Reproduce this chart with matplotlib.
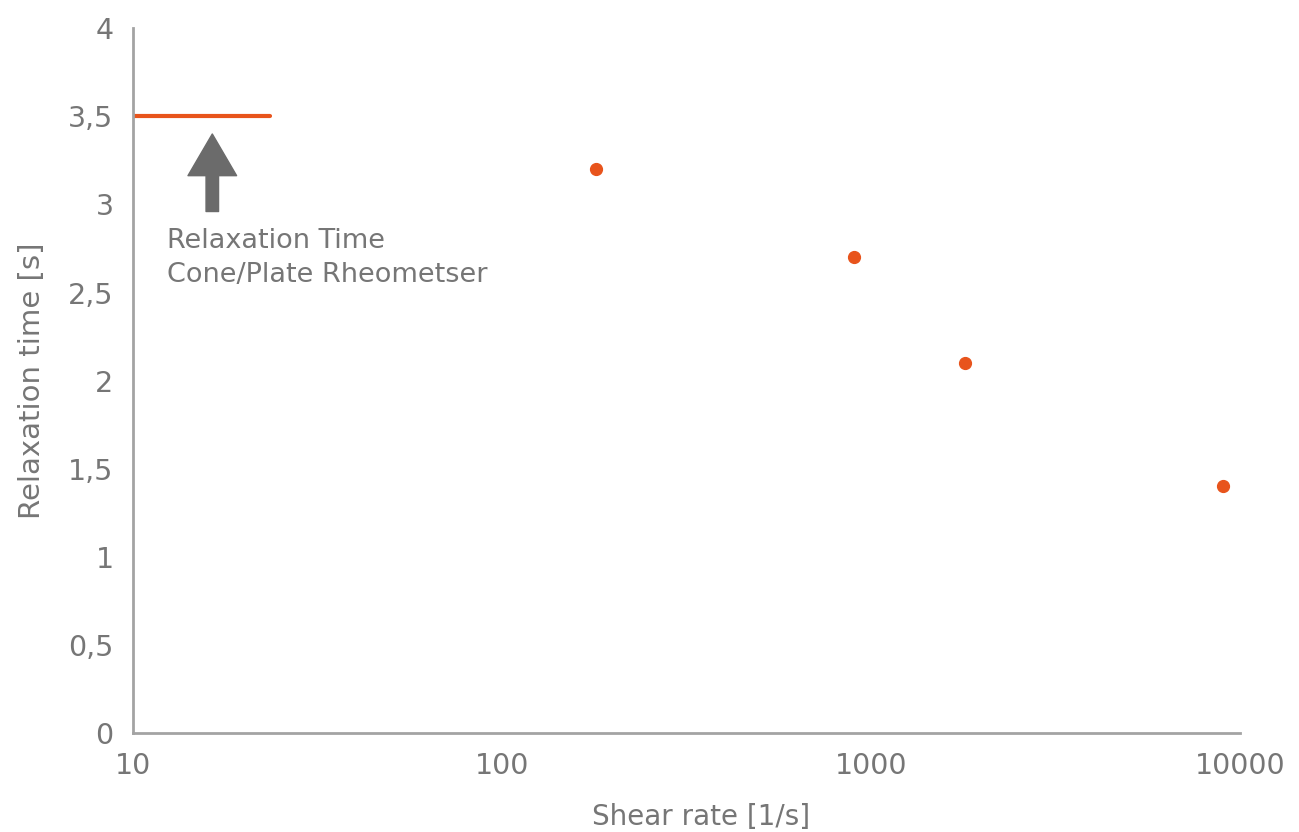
import matplotlib
matplotlib.use("Agg")
import matplotlib.pyplot as plt
from matplotlib.ticker import FixedLocator, NullLocator

# measured relaxation times (slit/capillary rheometer)
shear_rate = [180, 900, 1800, 9000]
relax_time = [3.2, 2.7, 2.1, 1.4]

# reference value from cone/plate rheometer, drawn as a short line
ref_x = [10, 23.5]
ref_y = [3.5, 3.5]

x_ticks = [10, 100, 1000, 10000]
x_tick_labels = ["10", "100", "1000", "10000"]
y_ticks = [0, 0.5, 1, 1.5, 2, 2.5, 3, 3.5, 4]
y_tick_labels = ["0", "0,5", "1", "1,5", "2", "2,5", "3", "3,5", "4"]

ORANGE = "#e8541c"
TEXT = "#767676"
SPINE = "#a3a3a3"
ARROW = "#6b6b6b"

plt.rcParams["font.family"] = ["DejaVu Sans"]

fig = plt.figure(figsize=(12.99, 8.32), dpi=100)
ax = fig.add_axes([0.1024, 0.119, 0.8522, 0.847])

ax.plot(ref_x, ref_y, color=ORANGE, linewidth=3, solid_capstyle="round")
ax.plot(shear_rate, relax_time, linestyle="none", marker="o", markersize=8.5,
        color=ORANGE)

ax.annotate("", xy=(16.4, 3.40), xytext=(16.4, 2.96),
            arrowprops=dict(arrowstyle="simple,head_length=1.5,head_width=1.75,tail_width=0.45",
                            color=ARROW, shrinkA=0, shrinkB=0, mutation_scale=20))
ax.text(12.4, 2.865, "Relaxation Time\nCone/Plate Rheometser", ha="left", va="top",
        fontsize=19.5, color=TEXT, linespacing=1.38)

ax.set_xscale("log")
ax.set_xlim(10, 10000)
ax.set_ylim(0, 4)
ax.xaxis.set_major_locator(FixedLocator(x_ticks))
ax.xaxis.set_minor_locator(NullLocator())
ax.set_xticklabels(x_tick_labels)
ax.set_yticks(y_ticks)
ax.set_yticklabels(y_tick_labels)

ax.tick_params(length=0, labelsize=20.5, labelcolor=TEXT)
ax.tick_params(axis="x", pad=14)
ax.tick_params(axis="y", pad=14)

for side in ("top", "right"):
    ax.spines[side].set_visible(False)
for side in ("left", "bottom"):
    ax.spines[side].set_color(SPINE)
    ax.spines[side].set_linewidth(2)

ax.set_xlabel("Shear rate [1/s]", fontsize=20, color=TEXT, labelpad=16)
ax.xaxis.label.set_x(0.5135)
ax.set_ylabel("Relaxation time [s]", fontsize=21, color=TEXT, labelpad=16)

fig.savefig("out.png", dpi=100)
